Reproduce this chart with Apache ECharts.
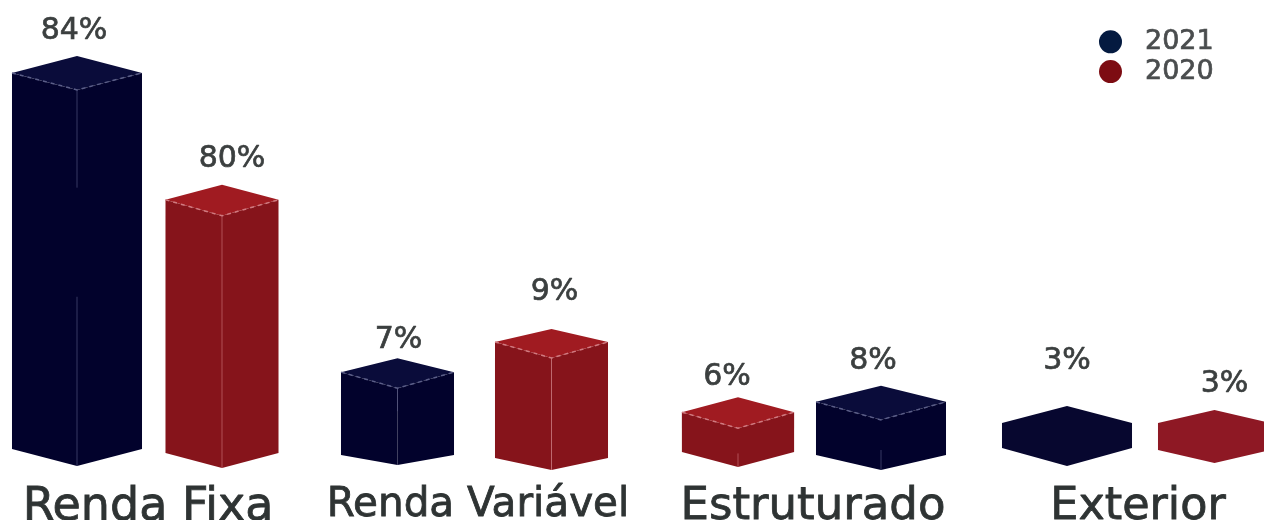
<!DOCTYPE html>
<html>
<head>
<meta charset="utf-8">
<script src="https://cdn.jsdelivr.net/npm/echarts@6/dist/echarts.min.js"></script>
<style>
  html, body { margin: 0; padding: 0; background: #fff; }
  #chart { width: 1264px; height: 520px; }
</style>
</head>
<body>
<div id="chart"></div>
<script>
  // one slot per bar, left to right
  var groups = ['Renda Fixa', 'Renda Variável', 'Estruturado', 'Exterior'];
  var slots = ['RF 2021', 'RF 2020', 'RV 2021', 'RV 2020', 'ES 2020', 'ES 2021', 'EX 2021', 'EX 2020'];
  var years = ['2021', '2020', '2021', '2020', '2020', '2021', '2021', '2020'];
  var shares = [84, 80, 7, 9, 6, 8, 3, 3];
  // the drawn heights do not follow the printed shares, so they are read separately
  var drawnHeights = [83.8, 55.6, 17.3, 24, 8.4, 10.7, 6, 6];

  // hand layout of the picture, per slot
  var nudgeX = [11.5, -8.5, 2, -9, 12.5, -9.5, 11.5, -6];
  var nudgeY = [-1, 3, 5, 8, 2, 5, -2, 0];
  var widthRatio = [0.788, 0.685, 0.685, 0.685, 0.68, 0.788, 0.788, 0.685];
  var rise = [17, 15, 14, 13, 15, 16, 17, 13];
  var fall = [17, 16, 16, 16, 16, 18, 17, 13];
  var drop = [17, 15, 10, 12, 15, 15, 18, 13];
  var labelDx = [-3, 10, 1, 3, -11, -8, 0, 10];
  var labelGap = [25, 26, 18, 37, 20, 25, 45, 26];
  var flat = [false, false, false, false, false, false, true, true];
  // visible stretches of the front crease, as parts of the front edge
  var creases = [[[0, 0.26], [0.55, 1]], [[0, 1]], [[0, 0.3]], [[0, 1]], [[0.65, 1]], [[0.6, 1]], [], []];

  var faces = {
    '2021': { side: '#02022c', top: '#0a0c3a', flat: '#07072f', line: '#5b5e88' },
    '2020': { side: '#86141b', top: '#a01b21', flat: '#8e1824', line: '#d07a80' }
  };
  var legendColors = { '2021': '#041a40', '2020': '#7d0c12' };

  function barRows(year) {
    var rows = [];
    slots.forEach(function (s, i) {
      if (years[i] === year) rows.push([s, drawnHeights[i], shares[i]]);
    });
    return rows;
  }

  function renderBar(year) {
    return function (params, api) {
      var i = api.value(0);
      var top = api.coord([i, api.value(1)]);
      var base = api.coord([i, 0]);
      var c = faces[year];
      var cx = top[0] + nudgeX[i];
      var half = api.size([1, 0])[0] * widthRatio[i] / 2;
      var y0 = top[1];
      var y1 = base[1] + nudgeY[i];
      var l = cx - half, r = cx + half;
      var apex = y0 - rise[i], front = y0 + fall[i], bottom = y1 + drop[i];
      var children = [];
      if (flat[i]) {
        children.push({
          type: 'polygon',
          shape: { points: [[l, y0], [cx, apex], [r, y0], [r, y1], [cx, bottom], [l, y1]] },
          style: { fill: c.flat }
        });
      } else {
        children.push({
          type: 'polygon',
          shape: { points: [[l, y0], [cx, front], [cx, bottom], [l, y1]] },
          style: { fill: c.side }
        }, {
          type: 'polygon',
          shape: { points: [[cx, front], [r, y0], [r, y1], [cx, bottom]] },
          style: { fill: c.side }
        }, {
          type: 'polygon',
          shape: { points: [[l, y0], [cx, apex], [r, y0], [cx, front]] },
          style: { fill: c.top }
        }, {
          type: 'polyline',
          shape: { points: [[l, y0], [cx, front], [r, y0]] },
          style: { fill: null, stroke: c.line, lineWidth: 1.5, lineDash: [4, 4] }
        });
        creases[i].forEach(function (part) {
          children.push({
            type: 'line',
            shape: {
              x1: cx,
              y1: front + (bottom - front) * part[0],
              x2: cx,
              y2: front + (bottom - front) * part[1]
            },
            style: { stroke: c.line, lineWidth: 1, opacity: 0.6 }
          });
        });
      }
      children.push({
        type: 'text',
        style: {
          x: cx + labelDx[i],
          y: apex - labelGap[i],
          text: api.value(2) + '%',
          fill: '#3b3f3f',
          stroke: '#3b3f3f',
          lineWidth: 0.7,
          font: '30px "DejaVu Sans"',
          align: 'center',
          verticalAlign: 'middle'
        }
      });
      return { type: 'group', children: children };
    };
  }

  var labelFont = { fontFamily: 'DejaVu Sans', color: '#2e3333', textBorderColor: '#2e3333', textBorderWidth: 0.8 };

  var option = {
    backgroundColor: '#fff',
    animation: false,
    legend: {
      orient: 'vertical',
      left: 1094,
      top: 23,
      padding: 5,
      itemWidth: 23,
      itemHeight: 23,
      itemGap: 2,
      icon: 'circle',
      textStyle: {
        fontFamily: 'DejaVu Sans',
        fontSize: 27,
        color: '#4a4d4e',
        textBorderColor: '#4a4d4e',
        textBorderWidth: 0.7,
        padding: [0, 0, 0, 18]
      },
      data: [
        { name: '2021', itemStyle: { color: legendColors['2021'] } },
        { name: '2020', itemStyle: { color: legendColors['2020'] } }
      ]
    },
    grid: { left: -17, width: 1320, top: 0, height: 450, outerBoundsMode: 'none' },
    xAxis: [{
      type: 'category',
      data: slots,
      show: false
    }, {
      type: 'category',
      position: 'bottom',
      data: groups,
      axisLine: { show: false },
      axisTick: { show: false },
      axisLabel: {
        interval: 0,
        margin: 35,
        formatter: function (value, i) { return '{g' + i + '|' + value + '}'; },
        rich: {
          g0: Object.assign({ fontSize: 46 }, labelFont),
          g1: Object.assign({ fontSize: 40.5 }, labelFont),
          g2: Object.assign({ fontSize: 45, padding: [0, 0, 0, 10] }, labelFont),
          g3: Object.assign({ fontSize: 44.5 }, labelFont)
        }
      }
    }],
    yAxis: { type: 'value', min: 0, max: 100, show: false },
    series: ['2021', '2020'].map(function (year) {
      return {
        name: year,
        type: 'custom',
        xAxisIndex: 0,
        encode: { x: 0, y: 1 },
        clip: false,
        data: barRows(year),
        renderItem: renderBar(year)
      };
    })
  };

  var myChart = echarts.init(document.getElementById('chart'));
  myChart.setOption(option);
  window.addEventListener('resize', function () {
    myChart.resize();
  });
</script>
</body>
</html>
